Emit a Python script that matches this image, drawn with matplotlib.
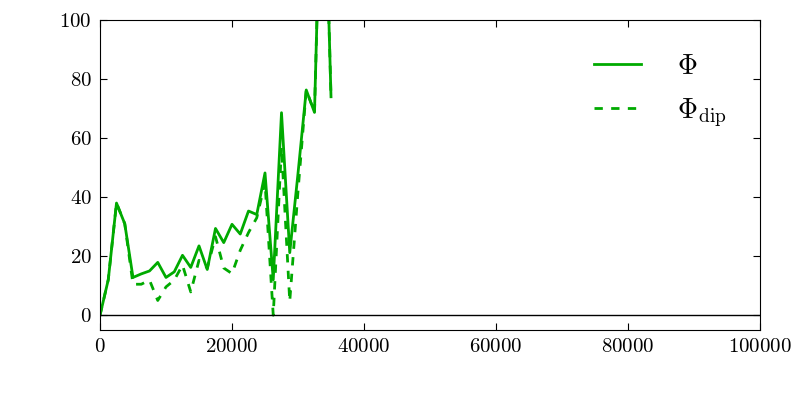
import matplotlib
matplotlib.use("Agg")
import matplotlib.pyplot as plt
import numpy as np

plt.rcParams["font.family"] = "cmr10"
plt.rcParams["mathtext.fontset"] = "cm"
plt.rcParams["axes.formatter.use_mathtext"] = True
plt.rcParams["lines.scale_dashes"] = False

COLOR = "#00aa00"

# step positions
x = [0, 1250, 2500, 3750, 5000, 6250, 7500, 8750, 10000, 11250, 12500, 13750,
     15000, 16250, 17500, 18750, 20000, 21250, 22500, 23750, 25000, 26250,
     27500, 28750, 30000, 31250, 32500, 33750, 35000]

phi = [0, 12, 38, 31, 12.8, 14, 15, 17.9, 12.8, 14.7, 20.3, 16.2,
       23.5, 15.5, 29.4, 24.6, 30.8, 27.5, 35.3, 34.1, 48.2, 12,
       68.6, 21.2, 48, 76.3, 68.7, 175, 74]

phi_dip = [0, 12, 38, 31, 10.5, 10.5, 11.9, 5, 9.6, 11.9, 17, 7.9,
           18.6, 16, 26.6, 16, 14.1, 22, 28, 33, 45, 0,
           57, 4.7, 42, 76.3, 68.7, 175, 74]

fig = plt.figure(figsize=(8, 4), dpi=100, facecolor="white")
ax = fig.add_axes([0.125, 0.175, 0.825, 0.775])

ax.plot(x, phi, "-", color=COLOR, lw=2, label=r"$\Phi$")
ax.plot(x, phi_dip, "--", color=COLOR, lw=2, dashes=(6, 6), label=r"$\Phi_{\rm dip}$")
ax.axhline(0, color="black", lw=1)

ax.set_xlim(0, 100000)
ax.set_ylim(-5, 100)
ax.set_xticks(np.arange(0, 100001, 20000))
ax.set_yticks(np.arange(0, 101, 20))
ax.tick_params(direction="in", top=True, right=True, labelsize=15, length=5, pad=6)

leg = ax.legend(loc="upper right", frameon=False, fontsize=20, handlelength=1.7,
                handletextpad=1.3, labelspacing=0.6, borderaxespad=0.8)

fig.savefig("out.png", dpi=100, facecolor="white")
